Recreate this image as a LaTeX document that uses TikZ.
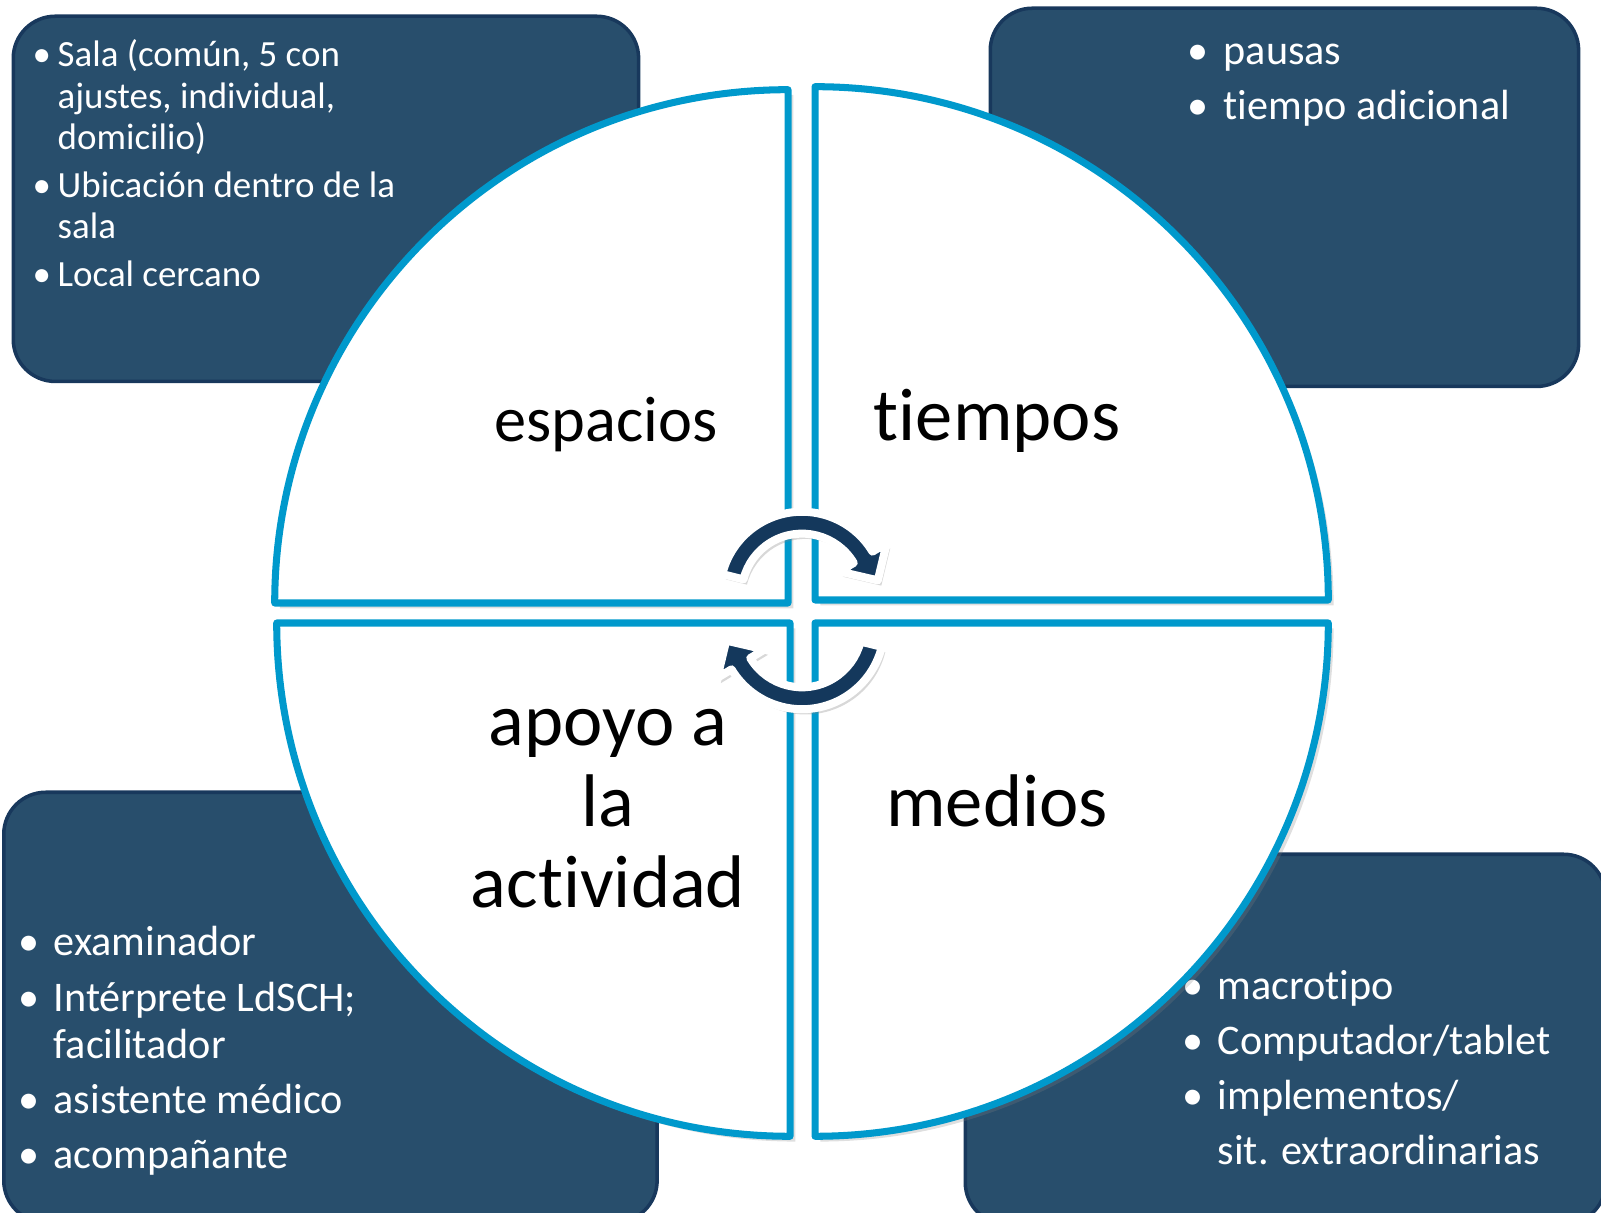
\documentclass[tikz,border=0pt]{standalone}
\usepackage{fontspec}
\setmainfont{Carlito}[Ligatures={NoCommon}]
\usetikzlibrary{shadows}

\definecolor{cajaAzul}{RGB}{40,78,108}
\definecolor{bordeCaja}{RGB}{24,56,92}
\definecolor{aroAzul}{RGB}{0,153,204}
\definecolor{flechaAzul}{RGB}{20,56,92}
\newcommand{\vin}[1][0.5cm]{\makebox[#1][c]{\textbullet}}

\begin{document}
\begin{tikzpicture}
[x=0.01cm,y=0.01cm,%
  cajaDecorate/.style={draw=bordeCaja,line width=1pt,fill=cajaAzul,rounded corners=0.42cm,inner sep=0pt,anchor=north west},%
  textoCaja/.style={text=white,inner sep=0pt,anchor=base west},%
  cuartoDecorate/.style={draw=aroAzul,line width=2pt,fill=white,line join=round,
    drop shadow={shadow xshift=1.5pt,shadow yshift=-1.5pt,opacity=0.25}},%
  etiqueta/.style={text=black,inner sep=0pt,anchor=base},%
  flechaDecorate/.style={fill=flechaAzul,draw=white,line width=0.08cm,line join=round,
    drop shadow={shadow xshift=1pt,shadow yshift=-1.5pt,opacity=0.3}},%
  giro/.pic={
    \path[flechaDecorate] (166:0.79cm) arc[start angle=166,end angle=31,radius=0.79cm]
      -- (31:0.95cm) -- (10.2:0.74cm) -- (31:0.42cm) -- (31:0.58cm)
      arc[start angle=31,end angle=166,radius=0.58cm] -- cycle;
  }]
\useasboundingbox (0,0) rectangle (1601,1213);
\clip (0,0) rectangle (1601,1213);
%% boxes
\node[cajaDecorate,minimum width=6.25cm,minimum height=3.65cm] (espaciosCaja) at (11.5,1198.5) {};
\node[cajaDecorate,minimum width=5.88cm,minimum height=3.78cm] (tiemposCaja) at (988.5,1206.5) {};
\node[cajaDecorate,minimum width=6.53cm,minimum height=4.30cm] (apoyoCaja) at (2,422.5) {};
\node[cajaDecorate,minimum width=6.40cm,minimum height=3.70cm] (mediosCaja) at (963.5,360.5) {};
%% box texts
\node[textoCaja,font=\fontsize{10.5}{11.7}\selectfont] (espaciosLista) at (25,1146) {%
  \begin{tabular}[t]{@{}l@{}l@{}}
  \vin[0.32cm] & Sala (común, 5 con\\
   & ajustes, individual,\\
   & domicilio)\\[2pt]
  \vin[0.32cm] & Ubicación dentro de la\\
   & sala\\[2pt]
  \vin[0.32cm] & Local cercano
  \end{tabular}};
\node[textoCaja,font=\fontsize{12}{15.6}\selectfont] (tiemposLista) at (1171,1148) {%
  \begin{tabular}[t]{@{}l@{}l@{}}
  \vin[0.52cm] & pausas\\
  \vin[0.52cm] & tiempo adicional
  \end{tabular}};
\node[textoCaja,font=\fontsize{12}{13.4}\selectfont] (apoyoLista) at (3,257) {%
  \begin{tabular}[t]{@{}l@{}l@{}}
  \vin & examinador\\[2.3pt]
  \vin & Intérprete LdSCH;\\
   & facilitador\\[2.3pt]
  \vin & asistente médico\\[2.3pt]
  \vin & acompañante
  \end{tabular}};
\node[textoCaja,font=\fontsize{12}{15.6}\selectfont] (mediosLista) at (1167,213) {%
  \begin{tabular}[t]{@{}l@{}l@{}}
  \vin & macrotipo\\
  \vin & Computador/tablet\\
  \vin & implementos/\\
   & sit. extraordinarias
  \end{tabular}};
%% quarters of the circle
\foreach \cx/\cy/\a in {788/610/90, 815/613/0, 815/590/-90, 790/590/180}
{
  \path[cuartoDecorate] (\cx,\cy) -- ++(\a+90:5.13cm)
    arc[start angle=\a+90,end angle=\a,radius=5.13cm] -- cycle;
}
%% labels
\node[etiqueta,font=\fontsize{18.3}{21}\selectfont] (espacios) at (606,771) {espacios};
\node[etiqueta,font=\fontsize{21.2}{25}\selectfont] (tiempos) at (997,772) {tiempos};
\node[etiqueta,font=\fontsize{21.2}{25}\selectfont] (medios) at (997,386) {medios};
\node[etiqueta,font=\fontsize{21.2}{22.9}\selectfont] (apoyo) at (608,467) {%
  \begin{tabular}[t]{@{}c@{}}apoyo a\\la\\actividad\end{tabular}};
%% turning arrows
\pic[scale=1.04] at (802,619) {giro};
\pic[scale=1.04,rotate=180] at (802,586) {giro};
\end{tikzpicture}
\end{document}
